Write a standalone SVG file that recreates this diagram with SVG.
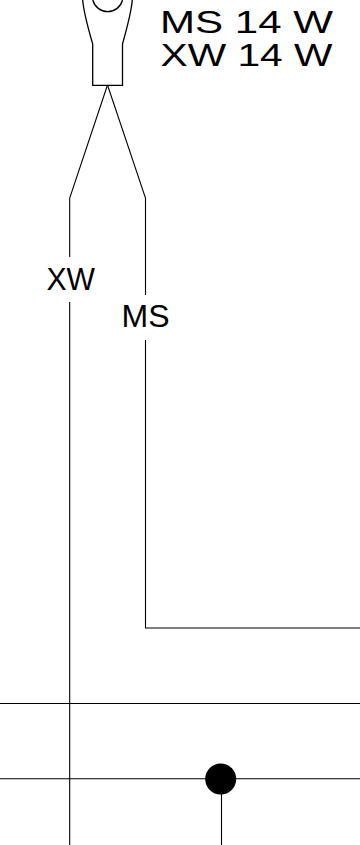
<svg xmlns="http://www.w3.org/2000/svg" width="360" height="845" viewBox="0 0 360 845">
<style>
.l{fill:none;stroke:#000;stroke-width:1.1}
.h{fill:none;stroke:#000;stroke-width:1.3}
.t{font-family:"Liberation Sans",Arial,sans-serif;fill:#000}
</style>
<rect width="360" height="845" fill="#fff"/>
<g id="connectors">
<path class="l" d="M107.500 85L69.700 198V257M69.700 302V845"/>
<path class="l" d="M107.500 85L145.500 198V295M145.500 340V628H360"/>
<path class="l" d="M0 703.500H360"/>
<path class="l" d="M0 778.700H360"/>
<path class="l" d="M221.500 779V845"/>
</g>
<g id="terminal">
<path class="h" d="M82.700 0C83.500 10 88 28 92.700 44V85.300H122.500V44C127 28 131.500 10 132.300 0"/>
<path class="h" d="M92.800 0A15.300 15.300 0 0 0 122.500 0"/>
</g>
<g id="junction"><circle cx="220.700" cy="779" r="15.500" fill="#000"/></g>
<g id="label-ms-14"><text class="t" x="160" y="32.500" font-size="32" textLength="173" lengthAdjust="spacingAndGlyphs">MS 14 W</text></g>
<g id="label-xw-14"><text class="t" x="160.500" y="66" font-size="32" textLength="172" lengthAdjust="spacingAndGlyphs">XW 14 W</text></g>
<g id="label-xw"><text class="t" x="46.500" y="290" font-size="31" textLength="48.500" lengthAdjust="spacingAndGlyphs">XW</text></g>
<g id="label-ms"><text class="t" x="121.500" y="326.500" font-size="31" textLength="48" lengthAdjust="spacingAndGlyphs">MS</text></g>
</svg>
